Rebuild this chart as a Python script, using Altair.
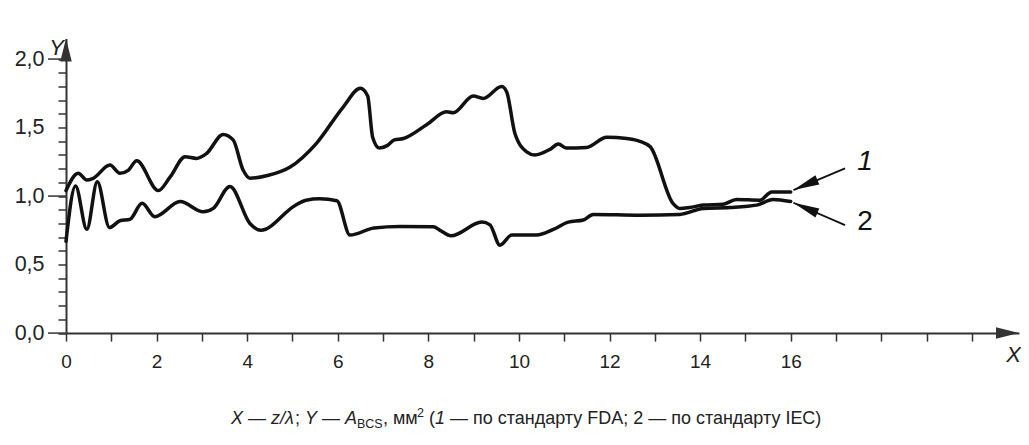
import altair as alt
import pandas as pd

FONT = "Liberation Sans"

# ---- data ----
# curve 1 (FDA)
fda_x = [0, 0.27, 0.46, 0.6, 0.97, 1.19, 1.38, 1.56, 2.04, 2.3, 2.63, 2.88, 3.1, 3.47, 3.69,
         3.91, 4.06, 4.45, 4.94, 5.53, 6.12, 6.5, 6.66, 6.77, 6.92, 7.1, 7.25, 7.45, 7.96, 8.4,
         8.55, 8.99, 9.21, 9.62, 9.73, 9.91, 10.17, 10.35, 10.68, 10.87, 11.05, 11.49, 11.94,
         12.38, 12.67, 12.9, 13.4, 13.55, 13.77, 14.07, 14.51, 14.8, 15.32, 15.58, 16.0]
fda_y = [1.04, 1.166, 1.117, 1.13, 1.226, 1.166, 1.19, 1.258, 1.04, 1.14, 1.287, 1.275, 1.31, 1.45, 1.41,
         1.19, 1.13, 1.15, 1.21, 1.385, 1.65, 1.786, 1.73, 1.43, 1.35, 1.37, 1.41, 1.42, 1.52, 1.615,
         1.608, 1.73, 1.713, 1.80, 1.76, 1.458, 1.323, 1.30, 1.34, 1.38, 1.35, 1.355, 1.43,
         1.42, 1.40, 1.36, 0.947, 0.91, 0.917, 0.934, 0.94, 0.975, 0.97, 1.03, 1.03]
# curve 2 (IEC)
iec_x = [0, 0.21, 0.46, 0.69, 0.96, 1.19, 1.41, 1.68, 1.96, 2.52, 3.03, 3.25, 3.62, 4.06, 4.3,
         5.05, 5.3, 5.6, 5.98, 6.27, 6.8, 7.37, 8.11, 8.26, 8.5, 9.18, 9.36, 9.58, 9.84, 10.39,
         10.76, 11.09, 11.42, 11.64, 12.67, 13.55, 14.07, 14.66, 15.25, 15.61, 16.0]
iec_y = [0.67, 1.073, 0.757, 1.104, 0.77, 0.82, 0.83, 0.947, 0.85, 0.96, 0.885, 0.91, 1.07, 0.80, 0.75,
         0.93, 0.97, 0.98, 0.966, 0.715, 0.767, 0.778, 0.776, 0.75, 0.71, 0.81, 0.79, 0.642, 0.715, 0.715,
         0.757, 0.81, 0.825, 0.866, 0.86, 0.866, 0.91, 0.917, 0.934, 0.975, 0.96]

x_tick_values = [0, 1, 2, 3, 4, 5, 6, 7, 8, 9, 10, 11, 12, 13, 14, 15, 16, 17, 18, 19, 20]
x_label_values = [0, 2, 4, 6, 8, 10, 12, 14, 16]
y_minor_ticks = [0.0, 0.1, 0.2, 0.3, 0.4, 0.5, 0.6, 0.7, 0.8, 0.9, 1.0, 1.1, 1.2, 1.3, 1.4, 1.5,
                 1.6, 1.7, 1.8, 1.9, 2.0]
y_major_ticks = [0.0, 1.0, 2.0]

X_DOMAIN = [0, 21.04]
Y_DOMAIN = [0, 2.15]
WIDTH = 953
HEIGHT = 294.6

# annotation arrows (data units) and labels
ann_x0 = [17.2, 17.2]
ann_y0 = [1.202, 0.788]
ann_x1 = [16.06, 16.06]
ann_y1 = [1.044, 0.951]
ann_angle = [247, 293]
ann_label_x = [17.64, 17.64]
ann_label_y = [1.248, 0.81]
ann_text = ["1", "2"]
ann_italic = [True, False]

# axis arrow heads
axis_arrow_x = [X_DOMAIN[1], 0]
axis_arrow_y = [0, Y_DOMAIN[1]]
axis_arrow_angle = [90, 0]

# caption pieces (pixel offsets from the plot's top-left corner)
cap_text = ["X", "—", "z/λ", ";", "Y", "—", "A", "BCS", ", мм", "2", "(", "1",
            "— по стандарту FDA; 2 — по стандарту IEC)"]
cap_px = [165, 182, 205, 229, 239, 256, 279, 291, 317, 351, 363, 369, 384]
cap_dy = [0, 0, 0, 0, 0, 0, 0, 4, 0, -7, 0, 0, 0]
cap_kind = ["it", "no", "it", "no", "it", "no", "it", "sm", "no", "sm", "no", "it", "no"]
CAP_BASE = 385.5

# ---- build ----
px_per_x = WIDTH / (X_DOMAIN[1] - X_DOMAIN[0])
px_per_y = HEIGHT / (Y_DOMAIN[1] - Y_DOMAIN[0])

curves = pd.DataFrame({
    "x": fda_x + iec_x,
    "y": fda_y + iec_y,
    "series": ["FDA"] * len(fda_x) + ["IEC"] * len(iec_x),
})
ann = pd.DataFrame({"x0": ann_x0, "y0": ann_y0, "x1": ann_x1, "y1": ann_y1,
                    "angle": ann_angle, "lx": ann_label_x, "ly": ann_label_y,
                    "t": ann_text, "it": ann_italic})
arrows = pd.DataFrame({"x": axis_arrow_x, "y": axis_arrow_y, "angle": axis_arrow_angle})
major = pd.DataFrame({"v": y_major_ticks})
cap = pd.DataFrame({
    "t": cap_text,
    "cx": [p / px_per_x for p in cap_px],
    "cy": [(HEIGHT - (CAP_BASE + d)) / px_per_y for d in cap_dy],
    "k": cap_kind,
})

xs = alt.Scale(domain=X_DOMAIN, nice=False, zero=False)
ys = alt.Scale(domain=Y_DOMAIN, nice=False, zero=False)

ARROW = "M0,0 L0.5,2 L-0.5,2 Z"
ARROW_ANN = "M0,0 L0.38,2 L-0.38,2 Z"

x_axis = alt.Axis(
    orient="bottom",
    values=x_tick_values,
    labelExpr="datum.value <= 16 && datum.value % 2 == 0 ? datum.label : ''",
    grid=False, domainColor="#333", domainWidth=2, tickColor="#333", tickWidth=1.5,
    tickSize=8, labelFontSize=19, labelColor="#222", labelPadding=11,
    labelOverlap=False, labelFlush=False,
    title="X", titleFontStyle="italic", titleFontWeight="normal", titleFontSize=22,
    titleColor="#222", titleX=947, titleY=21, titleAlign="center", titleBaseline="middle",
)
y_axis = alt.Axis(
    orient="left",
    values=y_minor_ticks,
    labelExpr="round(datum.value*10) % 5 == 0 ? replace(format(datum.value, '.1f'), '.', ',') : ''",
    grid=False, domainColor="#333", domainWidth=2, tickColor="#333", tickWidth=1.5,
    tickSize=8, labelFontSize=21.5, labelColor="#222", labelPadding=14,
    labelOverlap=False, labelFlush=False,
    title="Y", titleFontStyle="italic", titleFontWeight="normal", titleFontSize=22,
    titleColor="#222", titleX=-10, titleY=9.5, titleAngle=0, titleAlign="center",
    titleBaseline="middle",
)


def X(field):
    return alt.X(field, scale=xs, axis=x_axis)


def Y(field):
    return alt.Y(field, scale=ys, axis=y_axis)


lines = alt.Chart(curves).mark_line(
    color="#111", strokeWidth=3.5, interpolate="monotone", strokeJoin="round", strokeCap="round"
).encode(x=X("x:Q"), y=Y("y:Q"), detail="series:N")

major_ticks = alt.Chart(major).mark_rule(color="#333", strokeWidth=1.5).encode(
    x=alt.value(-18), x2=alt.value(0), y=Y("v:Q"),
)

rules = alt.Chart(ann).mark_rule(color="#111", strokeWidth=1.8).encode(
    x=X("x0:Q"), y=Y("y0:Q"), x2="x1:Q", y2="y1:Q",
)

heads = alt.Chart(ann).mark_point(
    shape=ARROW_ANN, filled=True, color="#111", size=676, opacity=1, strokeWidth=0
).encode(x=X("x1:Q"), y=Y("y1:Q"), angle=alt.Angle("angle:Q", scale=None))

lab_base = alt.Chart(ann).encode(x=X("lx:Q"), y=Y("ly:Q"), text="t:N")
label1 = lab_base.transform_filter("datum.it").mark_text(
    font=FONT, fontSize=28, color="#111", align="center", baseline="middle", fontStyle="italic")
label2 = lab_base.transform_filter("!datum.it").mark_text(
    font=FONT, fontSize=28, color="#111", align="center", baseline="middle")

axis_heads = alt.Chart(arrows).mark_point(
    shape=ARROW, filled=True, color="#333", size=529, opacity=1, strokeWidth=0
).encode(x=X("x:Q"), y=Y("y:Q"), angle=alt.Angle("angle:Q", scale=None))

cap_base = alt.Chart(cap).encode(x=X("cx:Q"), y=Y("cy:Q"), text="t:N")
cap_it = cap_base.transform_filter("datum.k == 'it'").mark_text(
    font=FONT, fontSize=18, color="#222", align="left", baseline="alphabetic", fontStyle="italic")
cap_no = cap_base.transform_filter("datum.k == 'no'").mark_text(
    font=FONT, fontSize=18, color="#222", align="left", baseline="alphabetic")
cap_sm = cap_base.transform_filter("datum.k == 'sm'").mark_text(
    font=FONT, fontSize=12.5, color="#222", align="left", baseline="alphabetic")

chart = alt.layer(
    lines, major_ticks, rules, heads, label1, label2, axis_heads, cap_it, cap_no, cap_sm
).properties(
    width=WIDTH, height=HEIGHT,
    autosize=alt.AutoSizeParams(type="none"),
    padding={"left": 58, "top": 30.5, "right": 2, "bottom": 100},
).configure_view(stroke=None).configure_axis(
    labelFont=FONT, titleFont=FONT
).configure_text(font=FONT)

chart.save("out.html", embed_options={"renderer": "svg", "actions": False})
